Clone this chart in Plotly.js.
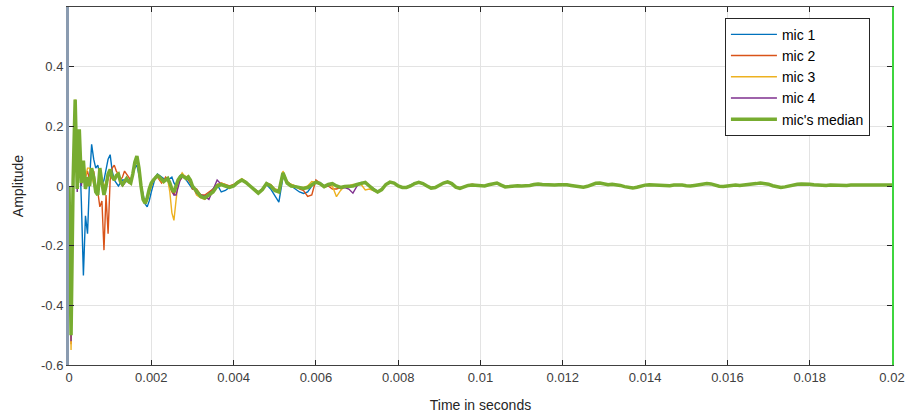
<!DOCTYPE html>
<html>
<head>
<meta charset="utf-8">
<script src="https://cdn.plot.ly/plotly-3.0.1.min.js"></script>
<style>html,body{margin:0;padding:0;background:#fff;}#chart{width:911px;height:419px;}</style>
</head>
<body>
<div id="chart"></div>
<script>
// Sample times (seconds)
var time = [0,0.00005,0.0001,0.00015,0.0002,0.00025,0.0003,0.00035,0.0004,0.00045,
0.0005,0.00055,0.0006,0.00065,0.0007,0.00075,0.0008,0.00085,0.0009,0.00095,
0.001,0.00105,0.0011,0.00115,0.0012,0.00125,0.0013,0.00135,0.0014,0.00145,
0.0015,0.00155,0.0016,0.00165,0.0017,0.00175,0.0018,0.00185,0.0019,0.00195,
0.002,0.00205,0.0021,0.00215,0.0022,0.00225,0.0023,0.00235,0.0024,0.00245,
0.0025,0.00255,0.0026,0.00265,0.0027,0.00275,0.0028,0.00285,0.0029,0.00295,
0.003,
0.0031,0.0032,0.0033,0.0034,0.0035,0.0036,0.0037,0.0038,0.0039,0.0040,
0.0041,0.0042,0.0043,0.0044,0.0045,0.0046,0.0047,0.0048,0.0049,0.0050,
0.0051,0.0052,0.0053,0.0054,0.0055,0.0056,0.0057,0.0058,0.0059,0.0060,
0.0061,0.0062,0.0063,0.0064,0.0065,0.0066,0.0067,0.0068,0.0069,0.0070,
0.0071,0.0072,0.0073,0.0074,0.0075,0.0076,0.0077,0.0078,0.0079,0.0080,
0.0081,0.0082,0.0083,0.0084,0.0085,0.0086,0.0087,0.0088,0.0089,0.0090,
0.0091,0.0092,0.0093,0.0094,0.0095,0.0096,0.0097,0.0098,0.0099,0.0100,
0.0101,0.0102,0.0103,0.0104,0.0105,0.0106,0.0107,0.0108,0.0109,0.0110,
0.0111,0.0112,0.0113,0.0114,0.0115,0.0116,0.0117,0.0118,0.0119,0.0120,
0.0121,0.0122,0.0123,0.0124,0.0125,0.0126,0.0127,0.0128,0.0129,0.0130,
0.0131,0.0132,0.0133,0.0134,0.0135,0.0136,0.0137,0.0138,0.0139,0.0140,
0.0141,0.0142,0.0143,0.0144,0.0145,0.0146,0.0147,0.0148,0.0149,0.0150,
0.0151,0.0152,0.0153,0.0154,0.0155,0.0156,0.0157,0.0158,0.0159,0.0160,
0.0161,0.0162,0.0163,0.0164,0.0165,0.0166,0.0167,0.0168,0.0169,0.0170,
0.0171,0.0172,0.0173,0.0174,0.0175,0.0176,0.0177,0.0178,0.0179,0.0180,
0.0181,0.0182,0.0183,0.0184,0.0185,0.0186,0.0187,0.0188,0.0189,0.0190,
0.0191,0.0192,0.0193,0.0194,0.0195,0.0196,0.0197,0.0198,0.0199,0.0200];

var mic1 = [0.0,-0.45,0.0,0.26,0.02,0.15,-0.05,-0.30,-0.10,-0.16,
0.02,0.14,0.09,0.06,0.07,0.03,0.0,0.02,0.05,0.09,
0.105,0.05,0.02,0.01,0.0,0.01,0.02,0.02,0.015,0.02,
0.02,0.04,0.06,0.07,0.04,0.0,-0.03,-0.06,-0.07,-0.05,
-0.02,0.01,0.03,0.04,0.035,0.03,0.025,0.02,0.02,0.025,
0.03,0.01,0.0,0.02,0.035,0.04,0.03,0.02,0.01,0.0,
-0.01,
-0.015,-0.03,-0.035,-0.025,-0.01,0.005,-0.02,-0.015,-0.005,0.0,
0.01,0.02,0.015,0.0,-0.01,-0.02,-0.01,0.005,-0.01,-0.03,
-0.054,0.03,0.015,0.0,-0.01,-0.02,-0.025,-0.02,0.0,0.01,
0.012,0.0,0.005,0.01,0.0,-0.005,0.0,-0.005,0.0,0.005,
0.012,0.01,0.0,-0.01,-0.018,-0.01,0.005,0.012,0.01,0.002,
-0.004,-0.004,0.002,0.01,0.012,0.006,-0.002,-0.006,-0.004,0.003,
0.01,0.012,0.006,-0.003,-0.007,-0.002,0.002,0.003,0.001,0.0];

var mic2 = [0.0,-0.53,0.05,0.27,0.0,0.17,0.02,0.06,0.03,0.05,
0.02,0.04,0.05,0.0,-0.02,-0.07,-0.05,-0.215,-0.03,-0.16,
0.02,0.06,0.07,0.05,0.04,0.02,0.03,0.05,0.04,0.03,
0.02,0.04,0.07,0.09,0.05,0.0,-0.04,-0.05,-0.04,-0.02,
0.0,0.02,0.03,0.03,0.02,0.01,0.02,0.03,0.02,0.0,
-0.02,-0.03,-0.01,0.01,0.02,0.03,0.035,0.03,0.02,0.01,
-0.01,
-0.01,-0.03,-0.03,-0.02,-0.01,0.005,0.01,0.005,0.0,0.005,
0.015,0.02,0.01,0.0,-0.01,-0.02,-0.01,0.01,0.005,-0.01,
-0.015,0.04,0.015,0.005,0.0,-0.01,-0.015,-0.035,-0.03,0.02,
0.01,0.0,0.0,-0.01,-0.01,-0.005,0.0,0.0,0.002,0.006,
0.01,0.012,0.002,-0.01,-0.02,-0.012,0.004,0.012,0.01,0.0,
-0.006,-0.006,0.0,0.008,0.01,0.008,0.0,-0.008,-0.006,0.002,
0.01,0.012,0.008,-0.003,-0.006,-0.002,0.004,0.006,0.003,0.0];

var mic3 = [0.0,-0.55,0.0,0.29,0.0,0.18,0.02,0.08,0.03,0.06,
0.06,0.03,0.0,-0.02,0.0,0.04,0.02,0.0,0.01,0.03,
0.04,0.03,0.02,0.04,0.045,0.02,0.0,0.01,0.02,0.01,
0.01,0.04,0.08,0.10,0.07,0.01,-0.04,-0.06,-0.05,-0.02,
0.0,0.02,0.03,0.03,0.025,0.015,0.01,0.02,0.02,-0.02,
-0.09,-0.115,-0.05,0.01,0.03,0.044,0.035,0.03,0.035,0.02,
0.0,
-0.03,-0.04,-0.045,-0.03,-0.015,0.005,0.01,0.005,-0.005,0.0,
0.015,0.025,0.015,0.0,-0.01,-0.02,-0.01,0.01,0.005,-0.01,
-0.015,0.05,0.015,0.005,0.0,-0.005,-0.005,0.0,0.015,0.012,
0.005,-0.005,0.0,0.0,-0.036,-0.015,0.0,0.0,0.005,0.005,
0.005,-0.013,-0.01,-0.015,-0.02,-0.01,0.005,0.015,0.01,0.0,
-0.005,-0.006,0.0,0.008,0.012,0.008,0.0,-0.008,-0.006,0.003,
0.01,0.015,0.008,-0.004,-0.008,-0.003,0.002,0.004,0.002,0.0];

var mic4 = [0.0,-0.52,0.02,0.28,-0.02,0.17,0.0,0.08,-0.01,0.02,
0.0,0.05,0.03,-0.01,-0.02,0.05,0.01,-0.02,0.0,0.03,
0.05,0.03,0.02,0.03,0.04,0.02,0.0,0.01,0.02,0.015,
0.01,0.035,0.07,0.09,0.06,0.0,-0.04,-0.055,-0.04,-0.01,
0.01,0.02,0.03,0.035,0.03,0.02,0.015,0.02,0.02,0.01,
-0.01,-0.03,-0.03,0.0,0.02,0.03,0.03,0.025,0.025,0.015,
0.0,
-0.025,-0.03,-0.035,-0.045,-0.01,0.02,0.005,0.0,-0.005,0.0,
0.01,0.02,0.01,0.0,-0.012,-0.022,-0.012,0.005,0.0,-0.015,
-0.02,0.04,0.01,0.0,-0.002,-0.005,-0.008,-0.005,0.005,0.012,
0.006,-0.002,0.0,0.006,0.0,-0.008,-0.005,-0.01,-0.024,0.0,
0.01,0.012,0.0,-0.012,-0.02,-0.012,0.005,0.013,0.01,0.0,
-0.005,-0.005,0.0,0.008,0.012,0.008,0.0,-0.007,-0.005,0.003,
0.01,0.014,0.008,-0.004,-0.008,-0.003,0.002,0.003,0.001,0.0];

var median = [0.0,-0.50,0.02,0.29,-0.01,0.19,0.01,0.085,-0.01,0.03,
0.0,0.06,0.03,-0.02,-0.03,0.06,0.01,-0.03,0.0,0.04,
0.055,0.03,0.02,0.035,0.04,0.015,0.005,0.015,0.025,0.015,
0.01,0.04,0.08,0.10,0.06,0.0,-0.045,-0.058,-0.04,-0.01,
0.01,0.02,0.03,0.035,0.03,0.02,0.015,0.02,0.025,0.01,
-0.01,-0.02,0.0,0.02,0.03,0.035,0.03,0.025,0.03,0.02,
0.0,
-0.02,-0.035,-0.04,-0.03,-0.02,0.0,0.005,0.0,-0.005,0.0,
0.012,0.02,0.012,0.0,-0.012,-0.024,-0.012,0.008,0.0,-0.015,
-0.02,0.044,0.01,0.0,-0.002,-0.005,-0.008,-0.005,0.005,0.013,
0.008,-0.002,0.005,0.008,0.0,-0.005,-0.002,-0.002,0.0,0.005,
0.01,0.012,0.0,-0.012,-0.02,-0.012,0.005,0.013,0.01,0.0,
-0.005,-0.005,0.0,0.008,0.012,0.008,0.0,-0.007,-0.005,0.003,
0.01,0.014,0.008,-0.004,-0.008,-0.003,0.002,0.003,0.001,0.0,
0.0,0.004,0.008,0.01,0.003,-0.003,-0.002,0.0,0.001,0.0,
0.0,0.002,0.005,0.007,0.005,0.004,0.004,0.003,0.004,0.005,
0.004,0.002,0.0,-0.003,-0.004,-0.001,0.004,0.009,0.01,0.006,
0.004,0.006,0.005,0.002,-0.002,-0.006,-0.007,-0.004,0.0,0.003,
0.004,0.003,0.003,0.002,0.0,0.001,0.003,0.004,0.003,0.001,
0.0,0.002,0.005,0.007,0.008,0.007,0.003,-0.001,-0.002,0.0,
0.002,0.003,0.002,0.003,0.004,0.006,0.008,0.01,0.009,0.006,
0.001,-0.003,-0.005,-0.003,0.001,0.004,0.006,0.007,0.007,0.006,
0.004,0.003,0.003,0.002,0.003,0.002,0.003,0.003,0.002,0.003,
0.003,0.002,0.003,0.003,0.002,0.003,0.003,0.002,0.003,0.003];

var seriesNames = ["mic 1","mic 2","mic 3","mic 4","mic's median"];
var seriesColors = ["#0072bd","#d95319","#edb120","#7e2f8e","#77ac30"];
var xTickVals = [0,0.002,0.004,0.006,0.008,0.01,0.012,0.014,0.016,0.018,0.02];
var xTickText = ["0","0.002","0.004","0.006","0.008","0.01","0.012","0.014","0.016","0.018","0.02"];
var yTickVals = [-0.6,-0.4,-0.2,0,0.2,0.4];
var yTickText = ["-0.6","-0.4","-0.2","0","0.2","0.4"];

var mics = [mic1, mic2, mic3, mic4];
var traces = mics.map(function(m, i){
  return {x: time.slice(0, m.length), y: m, type: "scatter", mode: "lines",
    name: seriesNames[i], line: {color: seriesColors[i], width: 1.4}, xaxis: "x", yaxis: "y"};
});
traces.push({x: time, y: median, type: "scatter", mode: "lines", name: seriesNames[4],
  line: {color: seriesColors[4], width: 3.5}, xaxis: "x", yaxis: "y2"});

var fontFam = "Liberation Sans, Arial, sans-serif";
var layout = {
  width: 911, height: 419,
  margin: {l: 69, r: 19, t: 7, b: 54},
  paper_bgcolor: "#ffffff", plot_bgcolor: "#ffffff",
  font: {family: fontFam, size: 13, color: "#262626"},
  showlegend: true,
  legend: {x: 0.797, y: 0.97, xanchor: "left", yanchor: "top", bgcolor: "#ffffff",
    bordercolor: "#262626", borderwidth: 1, itemwidth: 46,
    font: {family: fontFam, size: 14, color: "#000000"}},
  xaxis: {range: [0, 0.02], tickvals: xTickVals, ticktext: xTickText, ticks: "inside", ticklen: 5,
    tickcolor: "#262626", showline: true, linecolor: "#404040", linewidth: 1, mirror: "ticks",
    showgrid: true, gridcolor: "#e3e3e3", zeroline: false,
    title: {text: "Time in seconds", font: {family: fontFam, size: 14, color: "#262626"}, standoff: 16},
    tickfont: {family: fontFam, size: 13, color: "#404040"}},
  yaxis: {range: [-0.6, 0.6], tickvals: yTickVals, ticktext: yTickText, ticks: "inside", ticklen: 5,
    tickcolor: "#262626", showline: true, linecolor: "#8a9bb0", linewidth: 3,
    showgrid: true, gridcolor: "#e3e3e3", zeroline: false,
    title: {text: "Amplitude", font: {family: fontFam, size: 14, color: "#262626"}, standoff: 15},
    tickfont: {family: fontFam, size: 13, color: "#404040"}},
  yaxis2: {range: [-0.6, 0.6], overlaying: "y", side: "right", tickvals: yTickVals, ticks: "inside",
    ticklen: 5, tickcolor: "#262626", showticklabels: false, showline: true, linecolor: "#3fd63f",
    linewidth: 2, showgrid: false, zeroline: false}
};

Plotly.newPlot("chart", traces, layout, {displayModeBar: false, staticPlot: true});
</script>
</body>
</html>
